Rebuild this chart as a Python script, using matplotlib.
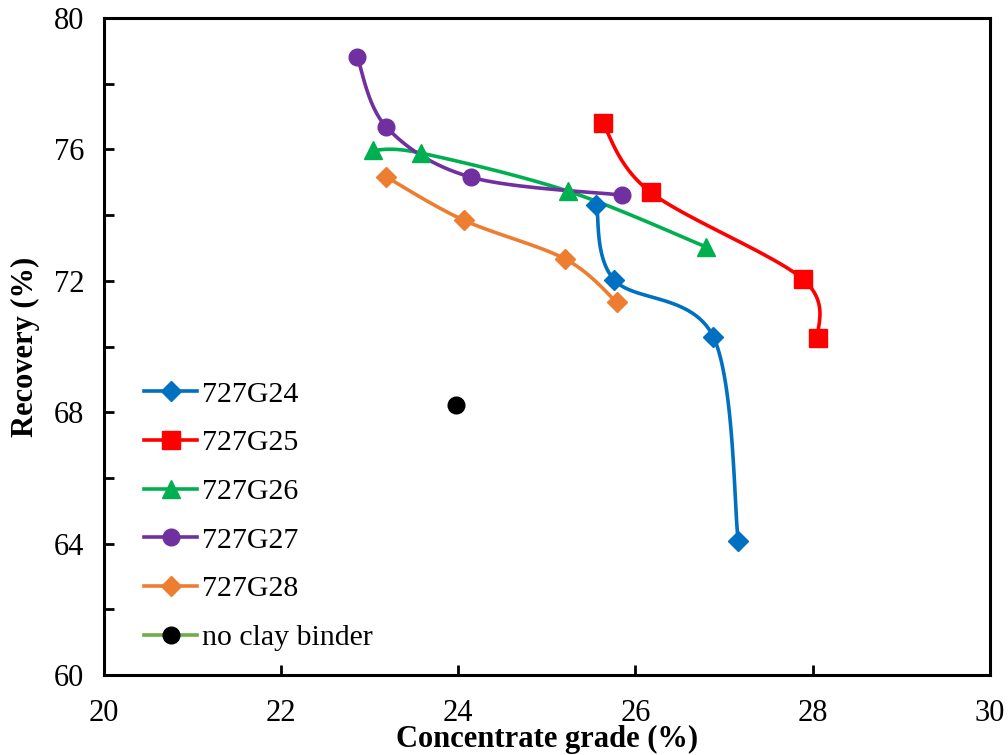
import numpy as np
import matplotlib
matplotlib.use("Agg")
import matplotlib.pyplot as plt
from matplotlib.lines import Line2D

# grade (%) vs recovery (%) per sample
g24_x = [25.56, 25.76, 26.88, 27.16]
g24_y = [74.31, 72.03, 70.29, 64.08]
g25_x = [25.63, 26.17, 27.89, 28.06]
g25_y = [76.80, 74.70, 72.05, 70.26]
g26_x = [23.04, 23.58, 25.24, 26.80]
g26_y = [75.98, 75.89, 74.73, 73.03]
g27_x = [22.86, 23.19, 24.14, 25.85]
g27_y = [78.81, 76.68, 75.16, 74.61]
g28_x = [23.19, 24.06, 25.21, 25.79]
g28_y = [75.16, 73.85, 72.66, 71.35]
noclay_x = [23.98]
noclay_y = [68.22]

labels = ["727G24", "727G25", "727G26", "727G27", "727G28", "no clay binder"]
colors = ["#0070C0", "#FF0000", "#00B050", "#7030A0", "#ED7D31", "#70AD47"]
markers = ["D", "s", "^", "o", "D", "o"]
msizes = [10, 13, 13, 12, 10, 12]

plt.rcParams["font.family"] = ["Liberation Serif", "DejaVu Serif"]

fig = plt.figure(figsize=(10.08, 7.55), dpi=100)
ax = fig.add_axes([0.103, 0.106, 0.879, 0.870])
ax.set_xlim(20, 30)
ax.set_ylim(60, 80)


def smooth_line(ax, xs, ys, n=40):
    """Excel style smoothed line, built in pixel space"""
    pts = ax.transData.transform(np.column_stack([xs, ys]))
    ext = np.vstack([pts[0], pts, pts[-1]])
    out = []
    for i in range(1, len(ext) - 2):
        p0, p1, p2, p3 = ext[i - 1], ext[i], ext[i + 1], ext[i + 2]
        c1 = p1 + (p2 - p0) / 6.0
        c2 = p2 - (p3 - p1) / 6.0
        t = np.linspace(0, 1, n)[:, None]
        seg = ((1 - t) ** 3) * p1 + 3 * ((1 - t) ** 2) * t * c1 \
            + 3 * (1 - t) * t ** 2 * c2 + t ** 3 * p2
        out.append(seg)
    curve = ax.transData.inverted().transform(np.vstack(out))
    return curve[:, 0], curve[:, 1]


series = [(g24_x, g24_y), (g25_x, g25_y), (g26_x, g26_y),
          (g27_x, g27_y), (g28_x, g28_y)]
for (xs, ys), c, m, ms in zip(series, colors, markers, msizes):
    sx, sy = smooth_line(ax, xs, ys)
    ax.plot(sx, sy, color=c, lw=2.6, zorder=2)
    ax.plot(xs, ys, ls="none", marker=m, ms=ms, color=c, zorder=3)

ax.plot(noclay_x, noclay_y, ls="none", marker="o", ms=12, color="black", zorder=3)

# legend handles
handles = []
for c, m, ms in zip(colors, markers, msizes):
    mc = "black" if c == "#70AD47" else c
    handles.append(Line2D([0], [0], color=c, lw=2.6, marker=m, ms=ms,
                          markerfacecolor=mc, markeredgecolor=mc))
ax.legend(handles, labels, loc="upper left", bbox_to_anchor=(0.045, 0.448),
          frameon=False, fontsize=21.5, numpoints=1, handlelength=1.8,
          handletextpad=0.15, labelspacing=0.73, borderpad=0, borderaxespad=0)

# axes styling
ax.set_xticks(np.arange(20, 31, 2))
ax.set_yticks(np.arange(60, 81, 4))
ax.set_yticks(np.arange(62, 80, 4), minor=True)
ax.tick_params(axis="both", which="both", direction="in", length=7, width=2,
               labelsize=22, top=False, right=False)
ax.tick_params(axis="x", pad=17)
ax.tick_params(axis="y", pad=14)
for s in ax.spines.values():
    s.set_linewidth(2.2)

ax.set_xlabel("Concentrate grade (%)", fontsize=22, fontweight="bold", labelpad=-2)
ax.set_ylabel("Recovery (%)", fontsize=22, fontweight="bold", labelpad=10)

fig.savefig("out.png", dpi=100)
